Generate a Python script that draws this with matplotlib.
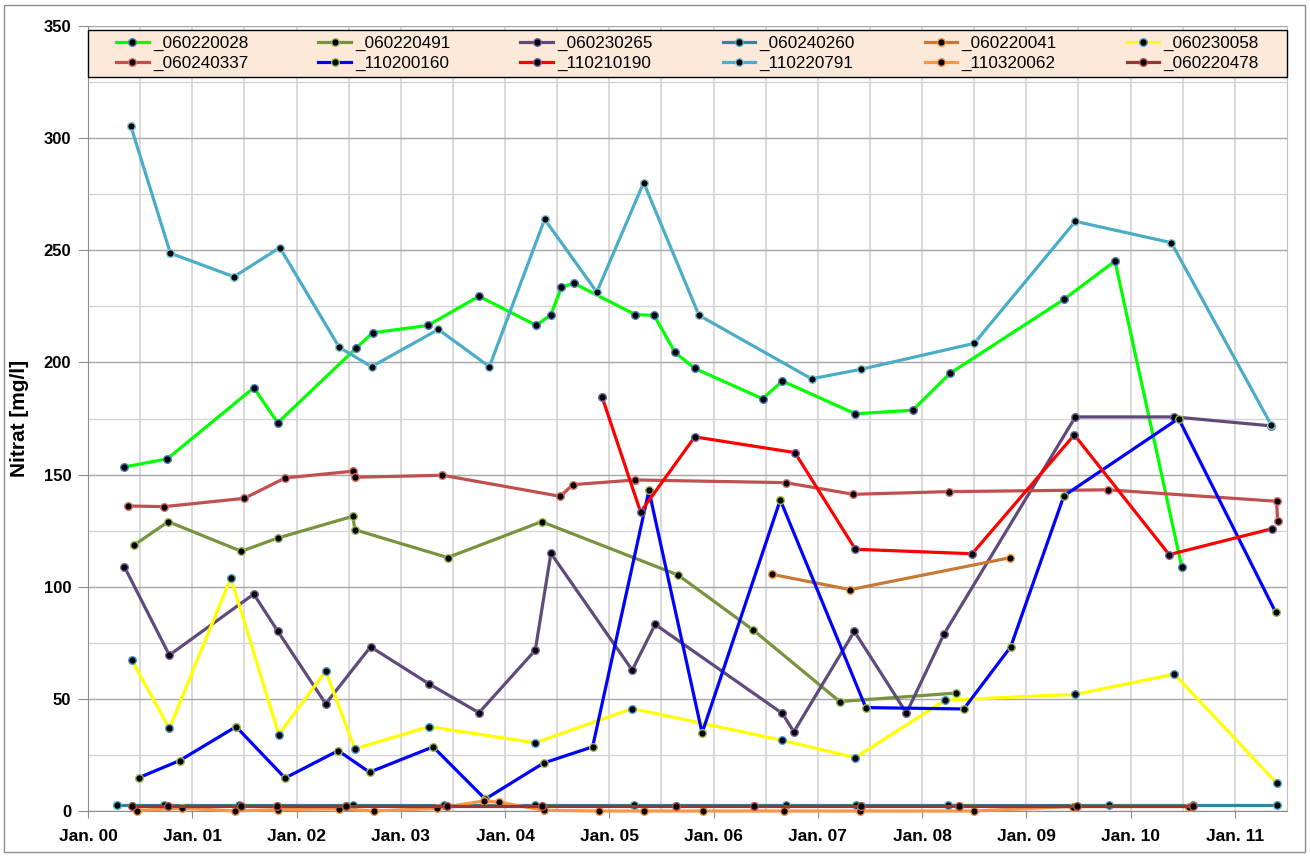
import matplotlib
matplotlib.use("Agg")
import matplotlib.pyplot as plt
import matplotlib.transforms as mtransforms
from matplotlib.patches import Rectangle

plt.rcParams['font.family'] = ['Liberation Sans', 'DejaVu Sans']

# ---- measurement series (x in decimal years, y in mg/l) ----
names = ['_060220028', '_060220491', '_060230265', '_060240260', '_060220041', '_060230058',
         '_060240337', '_110200160', '_110210190', '_110220791', '_110320062', '_060220478']

x_060220028 = [2000.35, 2000.76, 2001.59, 2001.82, 2002.57, 2002.73, 2003.26, 2003.75, 2004.30, 2004.44,
               2004.54, 2004.66, 2005.25, 2005.43, 2005.63, 2005.82, 2006.47, 2006.66, 2007.36, 2007.91,
               2008.27, 2009.36, 2009.85, 2010.49]
y_060220028 = [153.4, 157.0, 188.7, 173.1, 206.3, 213.2, 216.5, 229.5, 216.5, 221.3,
               233.5, 235.3, 221.3, 221.0, 204.5, 197.3, 183.8, 191.7, 177.1, 178.7,
               195.2, 228.1, 245.2, 108.9]

x_060220491 = [2000.44, 2000.77, 2001.47, 2001.82, 2002.54, 2002.56, 2003.45, 2004.35, 2005.66, 2006.38,
               2007.21, 2008.33]
y_060220491 = [118.5, 129.0, 115.8, 121.7, 131.4, 125.4, 113.0, 129.0, 105.2, 80.7, 48.8, 52.6]

x_060230265 = [2000.35, 2000.78, 2001.59, 2001.82, 2002.28, 2002.71, 2003.27, 2003.75, 2004.29, 2004.44,
               2005.22, 2005.44, 2006.66, 2006.77, 2007.35, 2007.85, 2008.21, 2009.47, 2010.42, 2011.35]
y_060230265 = [108.8, 69.5, 96.7, 80.2, 47.8, 73.2, 56.7, 43.8, 71.7, 114.9,
               62.8, 83.2, 43.5, 35.3, 80.1, 43.7, 78.9, 175.7, 175.7, 171.7]

x_060240260 = [2000.28, 2000.73, 2001.45, 2002.54, 2003.41, 2004.29, 2005.24, 2006.69, 2007.37, 2008.25,
               2009.79, 2010.60, 2011.40]
y_060240260 = [2.5, 2.5, 2.5, 2.5, 2.5, 2.5, 2.5, 2.5, 2.5, 2.5, 2.5, 2.5, 2.5]

x_060220041 = [2006.56, 2007.31, 2008.84]
y_060220041 = [105.5, 98.7, 112.9]

x_060230058 = [2000.42, 2000.78, 2001.37, 2001.83, 2002.28, 2002.56, 2003.27, 2004.29, 2005.22, 2006.66,
               2007.36, 2008.22, 2009.47, 2010.42, 2011.40]
y_060230058 = [67.3, 36.8, 104.0, 34.1, 62.4, 27.7, 37.6, 30.4, 45.7, 31.5,
               23.8, 49.4, 52.0, 61.0, 12.5]

x_060240337 = [2000.38, 2000.73, 2001.50, 2001.89, 2002.54, 2002.56, 2003.40, 2004.53, 2004.65, 2005.25,
               2006.69, 2007.34, 2008.26, 2009.78, 2011.40, 2011.41]
y_060240337 = [136.0, 135.7, 139.4, 148.5, 151.5, 148.8, 149.7, 140.3, 145.5, 147.6,
               146.4, 141.2, 142.4, 143.2, 138.1, 129.5]

x_110200160 = [2000.49, 2000.88, 2001.42, 2001.89, 2002.40, 2002.70, 2003.31, 2003.81, 2004.37, 2004.84,
               2005.38, 2005.89, 2006.64, 2007.46, 2008.40, 2008.85, 2009.36, 2010.46, 2011.39]
y_110200160 = [14.9, 22.5, 37.6, 14.7, 26.9, 17.3, 28.6, 5.3, 21.4, 28.6,
               142.9, 34.8, 138.7, 46.1, 45.5, 73.2, 140.5, 175.0, 88.7]

x_110210190 = [2004.93, 2005.30, 2005.82, 2006.78, 2007.36, 2008.48, 2009.46, 2010.37, 2011.36]
y_110210190 = [184.7, 133.3, 166.8, 159.8, 116.7, 114.7, 167.7, 114.3, 125.9]

x_110220791 = [2000.41, 2000.79, 2001.40, 2001.84, 2002.41, 2002.72, 2003.36, 2003.85, 2004.38, 2004.88,
               2005.33, 2005.86, 2006.94, 2007.41, 2008.50, 2009.47, 2010.39, 2011.35]
y_110220791 = [305.5, 248.7, 238.2, 251.2, 206.7, 198.1, 214.7, 198.1, 263.8, 231.4,
               280.2, 221.0, 192.7, 196.9, 208.5, 262.9, 253.4, 172.0]

x_110320062 = [2000.47, 2000.90, 2001.41, 2001.82, 2002.41, 2002.74, 2003.35, 2003.80, 2003.94, 2004.37,
               2004.90, 2005.33, 2005.90, 2006.68, 2007.40, 2008.50, 2009.45, 2010.56]
y_110320062 = [0.2, 1.3, 0.0, 0.6, 1.0, 0.0, 1.2, 4.5, 4.0, 0.3,
               0.0, 0.0, 0.0, 0.0, 0.0, 0.0, 2.0, 2.0]

x_060220478 = [2000.42, 2000.77, 2001.47, 2001.81, 2002.47, 2003.44, 2004.35, 2005.64, 2006.39, 2007.41,
               2008.35, 2009.49, 2010.60]
y_060220478 = [2.2, 2.2, 2.2, 2.2, 2.2, 2.2, 2.2, 2.2, 2.2, 2.2, 2.2, 2.2, 2.2]

xs = [x_060220028, x_060220491, x_060230265, x_060240260, x_060220041, x_060230058,
      x_060240337, x_110200160, x_110210190, x_110220791, x_110320062, x_060220478]
ys = [y_060220028, y_060220491, y_060230265, y_060240260, y_060220041, y_060230058,
      y_060240337, y_110200160, y_110210190, y_110220791, y_110320062, y_060220478]

line_colors = ['#00FF00', '#77933C', '#604A7B', '#31859C', '#C77A35', '#FFFF00',
               '#C0504D', '#0000FF', '#FF0000', '#4BACC6', '#F79646', '#953735']
rim_colors = ['#4F81BD', '#9BBB59', '#8064A2', '#4BACC6', '#F79646', '#4F9FD0',
              '#E07070', '#9BBB59', '#8064A2', '#7FC8DC', '#F79646', '#C0504D']

year_ticks = list(range(2000, 2012))
year_labels = ['Jan. %02d' % (y % 100) for y in year_ticks]
half_year_ticks = [y + 0.5 for y in range(2000, 2011)]

# ---- figure ----
W, H = 1310, 857
fig = plt.figure(figsize=(W / 100, H / 100), dpi=100)
fig.patch.set_facecolor('white')
left, right, top, bottom = 88, 1287, 26, 811
ax = fig.add_axes([left / W, 1 - bottom / H, (right - left) / W, (bottom - top) / H])
ax.set_xlim(2000, 2011.5)
ax.set_ylim(0, 350)

handles = []
for x, y, c, rc, n in zip(xs, ys, line_colors, rim_colors, names):
    h, = ax.plot(x, y, color=c, lw=2.3, marker='o', ms=5.5, mfc='black', mec=rc, mew=1.0,
                 solid_joinstyle='round', clip_on=False, zorder=3, label=n)
    handles.append(h)

# grid
ax.set_yticks(range(0, 351, 50))
ax.set_yticks(range(25, 350, 50), minor=True)
ax.set_xticks(year_ticks)
ax.set_xticks(half_year_ticks, minor=True)
ax.set_xticklabels(year_labels)
ax.grid(which='major', axis='y', color='#A6A6A6', lw=1.0, zorder=0)
ax.grid(which='minor', axis='y', color='#D4D4D4', lw=1.0, zorder=0)
ax.grid(which='both', axis='x', color='#D0D0D0', lw=1.1, zorder=0)
ax.set_axisbelow(True)

ax.spines['top'].set_visible(False)
ax.spines['right'].set_color('#C0C0C0')
ax.spines['left'].set_color('#8C8C8C')
ax.spines['bottom'].set_color('#8C8C8C')

ax.tick_params(axis='y', which='major', direction='out', length=7, color='#8C8C8C', pad=5,
               labelsize=12)
ax.tick_params(axis='x', which='major', direction='out', length=5, color='#8C8C8C', pad=8,
               labelsize=12.5)
ax.tick_params(which='minor', length=0)
for lab in ax.get_xticklabels() + ax.get_yticklabels():
    lab.set_fontweight('bold')

ax.set_ylabel('Nitrat [mg/l]', fontsize=15, fontweight='bold')
ax.yaxis.set_label_coords((29 - left) / (right - left), 0.5)

# legend box spanning the plot width
trans = mtransforms.blended_transform_factory(ax.transAxes, ax.transData)
y_top = (bottom - 30) * 350 / (bottom - top)
y_bot = (bottom - 77) * 350 / (bottom - top)
ax.add_patch(Rectangle((0, y_bot), 1, y_top - y_bot, transform=trans, facecolor='#FDE9D9',
                       edgecolor='black', lw=1.0, zorder=4, clip_on=False))
order = []
for i in range(6):
    order += [i, i + 6]
leg = ax.legend([handles[i] for i in order], [names[i] for i in order], ncol=6, loc='center',
                bbox_to_anchor=(0.5, (y_top + y_bot) / 2 / 350), frameon=False, fontsize=12.3,
                handlelength=1.9, handletextpad=0.25, columnspacing=4.1, labelspacing=0.25,
                borderpad=0.2)
leg.set_zorder(5)

# outer chart border
fig.patches.append(Rectangle((4 / W, 5 / H), (W - 9) / W, (H - 10) / H, transform=fig.transFigure,
                             fill=False, edgecolor='#8C8C8C', lw=1.0))

fig.savefig('out.png', dpi=100)
